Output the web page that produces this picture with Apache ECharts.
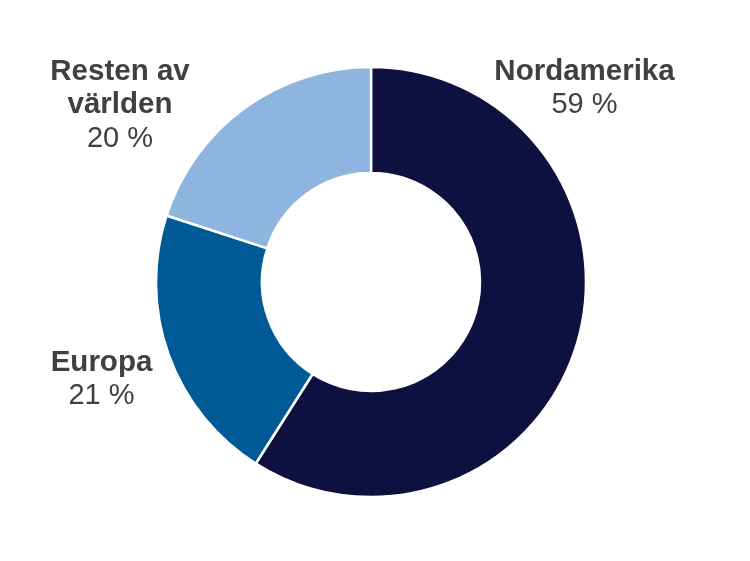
<!DOCTYPE html>
<html>
<head>
<meta charset="utf-8">
<script src="https://cdn.jsdelivr.net/npm/echarts@6/dist/echarts.min.js"></script>
<style>html,body{margin:0;padding:0;background:#fff}#c{width:750px;height:561px}</style>
</head>
<body>
<div id="c"></div>
<script>
const categories = ['Nordamerika', 'Europa', 'Resten av världen'];
const labelTexts = ['Nordamerika', 'Europa', 'Resten av\nvärlden'];
const values = [59, 21, 20];
const colors = ['#0e1140', '#005a95', '#8eb4e0'];
const labelPos = [
  { x: 584.5, y: 88.5 },
  { x: 101.5, y: 379.5 },
  { x: 120, y: 105 }
];

const chart = echarts.init(document.getElementById('c'), null, { renderer: 'canvas' });
chart.setOption({
  animation: false,
  backgroundColor: '#ffffff',
  series: [{
    type: 'pie',
    center: [371, 282],
    radius: [109, 215],
    startAngle: 90,
    clockwise: true,
    avoidLabelOverlap: false,
    itemStyle: { borderColor: '#ffffff', borderWidth: 2.5 },
    emphasis: { disabled: true },
    labelLine: { show: false },
    label: {
      show: true,
      position: 'outside',
      formatter: function (p) {
        const name = labelTexts[p.dataIndex].split('\n').map(s => '{b|' + s + '}').join('\n');
        return name + '\n{v|' + p.value + ' %}';
      },
      rich: {
        b: { fontFamily: 'Liberation Sans, Arial, sans-serif', fontSize: 29.5, fontWeight: 'bold', color: '#404040', lineHeight: 33.5, align: 'center' },
        v: { fontFamily: 'Liberation Sans, Arial, sans-serif', fontSize: 29, color: '#404040', lineHeight: 33.5, align: 'center' }
      }
    },
    labelLayout: function (params) {
      const p = labelPos[params.dataIndex];
      return { x: p.x, y: p.y, align: 'center', verticalAlign: 'middle' };
    },
    data: categories.map((c, i) => ({ name: c, value: values[i], itemStyle: { color: colors[i] } }))
  }]
});
</script>
</body>
</html>
